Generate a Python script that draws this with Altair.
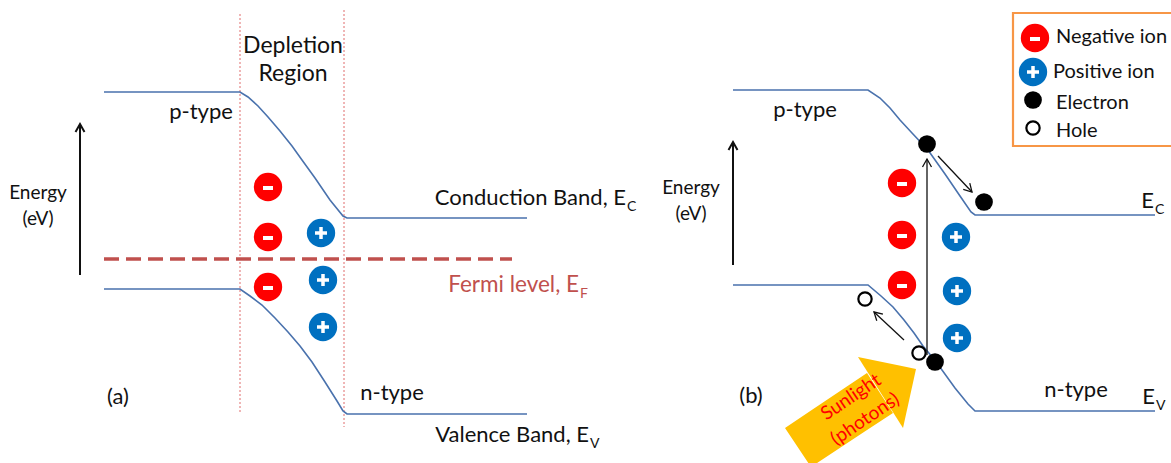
import math
import altair as alt
import pandas as pd

W, H = 1171, 463
FONT = "Lato"
INK = "#111111"
BAND_BLUE = "#4a72ad"
FERMI_RED = "#c0504d"
ION_RED = "#ff0000"
ION_BLUE = "#0070c0"

# ---- band edges (pixel space, y grows downward) ----
a_cb_x = [104, 240, 248, 258, 268, 280, 292, 302, 315, 330, 343, 347, 527]
a_cb_y = [92, 92, 97, 106, 117, 131, 146, 160, 178, 200, 216, 218, 218]
a_vb_x = [104, 240, 250, 262, 275, 288, 300, 312, 325, 337, 343, 347, 527]
a_vb_y = [289, 289, 296, 305, 318, 332, 346, 362, 382, 401, 411, 414, 414]
b_cb_x = [733, 868, 880, 890, 900, 912, 928, 945, 960, 971, 975, 1155]
b_cb_y = [90, 90, 98, 108, 120, 133, 150, 174, 196, 212, 215, 215]
b_vb_x = [733, 868, 881, 893, 904, 914, 923, 933, 942, 955, 968, 975, 1155]
b_vb_y = [285, 285, 296, 307, 320, 333, 346, 358, 370, 388, 404, 411, 411]

# depletion-region boundaries and Fermi level
dep_x = [240, 344]
dep_top = [14, 10]
dep_bot = [413, 427]
fermi_x = [104, 512]
fermi_y = 259

# fixed charges
neg_ion_x = [268, 268, 268, 902, 902, 902, 1035]
neg_ion_y = [187, 237, 287, 183, 235, 285, 38]
pos_ion_x = [321, 323, 323, 956, 957, 957, 1033]
pos_ion_y = [233, 280, 327, 237, 291, 338, 72]

# carriers
electron_x = [927, 984, 935, 1033]
electron_y = [144, 202, 362, 100]
hole_x = [865, 919, 1033]
hole_y = [299, 353, 128]

# arrows: (x0, y0, x1, y1, stroke width)
arrows = [
    (80, 275, 80, 124, 2.0),
    (733, 265, 733, 142, 2.0),
    (927, 355, 927, 159, 1.3),
    (938, 156, 972, 192, 1.3),
    (904, 340, 874, 312, 1.3),
]

# incoming-light block arrow: shaft quad and head triangle
sun_shaft = [(785, 428), (867, 373), (893, 413), (811, 467)]
sun_head = [(858, 357), (916, 369), (903, 428)]

# legend frame
legend_box = dict(x=1013, x2=1180, y=13, y2=146)

xs = alt.Scale(domain=[0, W], nice=False, zero=False)
ys = alt.Scale(domain=[H, 0], nice=False, zero=False)
X = lambda f="x": alt.X(f"{f}:Q", scale=xs, axis=None)
Y = lambda f="y": alt.Y(f"{f}:Q", scale=ys, axis=None)


def polyline_rows(xs_, ys_, key):
    return [dict(x=a, y=b, s=key, i=k) for k, (a, b) in enumerate(zip(xs_, ys_))]


def chevron(x0, y0, x1, y1, length=8.0, half=4.5):
    dx, dy = x1 - x0, y1 - y0
    n = math.hypot(dx, dy)
    ux, uy = dx / n, dy / n
    bx, by = x1 - ux * length, y1 - uy * length
    px, py = -uy, ux
    return [(bx + px * half, by + py * half), (x1, y1), (bx - px * half, by - py * half)]


def convex_area_rows(pts, key):
    # split a convex polygon into upper/lower chains sampled at every vertex x
    xs_sorted = sorted(set(p[0] for p in pts))
    edges = list(zip(pts, pts[1:] + pts[:1]))
    rows = []
    for xv in xs_sorted:
        hits = []
        for (ax, ay), (bx, by) in edges:
            lo, hi = min(ax, bx), max(ax, bx)
            if lo <= xv <= hi:
                if ax == bx:
                    hits += [ay, by]
                else:
                    t = (xv - ax) / (bx - ax)
                    hits.append(ay + t * (by - ay))
        rows.append(dict(x=xv, y=min(hits), y2=max(hits), s=key))
    return rows


# ---- band lines ----
band_rows = (polyline_rows(a_cb_x, a_cb_y, "a_cb") + polyline_rows(a_vb_x, a_vb_y, "a_vb")
             + polyline_rows(b_cb_x, b_cb_y, "b_cb") + polyline_rows(b_vb_x, b_vb_y, "b_vb"))
bands = alt.Chart(pd.DataFrame(band_rows)).mark_line(
    color=BAND_BLUE, strokeWidth=1.6).encode(x=X(), y=Y(), detail="s:N", order="i:Q")

dep = alt.Chart(pd.DataFrame(dict(x=dep_x, y=dep_top, y2=dep_bot))).mark_rule(
    color="#e06c6c", strokeWidth=1, strokeDash=[2, 2]).encode(x=X(), y=Y(), y2="y2:Q")

fermi = alt.Chart(pd.DataFrame(dict(x=[fermi_x[0]], x2=[fermi_x[1]], y=[fermi_y]))).mark_rule(
    color=FERMI_RED, strokeWidth=3.5, strokeDash=[15, 7]).encode(x=X(), x2="x2:Q", y=Y())

# ---- arrows ----
shaft_rows, head_rows = [], []
for k, (x0, y0, x1, y1, sw) in enumerate(arrows):
    shaft_rows.append(dict(x=x0, y=y0, x2=x1, y2=y1, w=sw))
    for j, (hx, hy) in enumerate(chevron(x0, y0, x1, y1)):
        head_rows.append(dict(x=hx, y=hy, s=k, i=j, w=sw))
arrow_shafts = alt.Chart(pd.DataFrame(shaft_rows)).mark_rule(color=INK).encode(
    x=X(), y=Y(), x2="x2:Q", y2="y2:Q", strokeWidth=alt.StrokeWidth("w:Q", scale=None))
arrow_heads = alt.Chart(pd.DataFrame(head_rows)).mark_line(color=INK).encode(
    x=X(), y=Y(), detail="s:N", order="i:Q", strokeWidth=alt.StrokeWidth("w:Q", scale=None))

# ---- sunlight arrow ----
sun_rows = convex_area_rows(sun_shaft, "shaft") + convex_area_rows(sun_head, "head")
sun = alt.Chart(pd.DataFrame(sun_rows)).mark_area(
    color="#ffc000", opacity=1, clip=True, interpolate="linear").encode(
    x=X(), y=Y(), y2="y2:Q", detail="s:N")

# ---- legend frame ----
legend_frame = alt.Chart(pd.DataFrame([legend_box])).mark_rect(
    fill="white", stroke="#f79646", strokeWidth=2.2, clip=True).encode(
    x=X(), x2="x2:Q", y=Y(), y2="y2:Q")

# ---- ions ----
ion_area = math.pi * 16 ** 2
neg = alt.Chart(pd.DataFrame(dict(x=neg_ion_x, y=neg_ion_y))).mark_circle(
    color=ION_RED, opacity=1, size=ion_area).encode(x=X(), y=Y())
pos = alt.Chart(pd.DataFrame(dict(x=pos_ion_x, y=pos_ion_y))).mark_circle(
    color=ION_BLUE, opacity=1, size=ion_area).encode(x=X(), y=Y())

minus_df = pd.DataFrame(dict(x=[v - 5 for v in neg_ion_x], x2=[v + 5 for v in neg_ion_x],
                             y=[v + 1 for v in neg_ion_y]))
minus = alt.Chart(minus_df).mark_rule(color="white", strokeWidth=4).encode(
    x=X(), x2="x2:Q", y=Y())
plus_h = pd.DataFrame(dict(x=[v - 6 for v in pos_ion_x], x2=[v + 6 for v in pos_ion_x], y=pos_ion_y))
plus_v = pd.DataFrame(dict(x=pos_ion_x, y=[v - 6 for v in pos_ion_y], y2=[v + 6 for v in pos_ion_y]))
plus = (alt.Chart(plus_h).mark_rule(color="white", strokeWidth=3.5).encode(x=X(), x2="x2:Q", y=Y())
        + alt.Chart(plus_v).mark_rule(color="white", strokeWidth=3.5).encode(x=X(), y=Y(), y2="y2:Q"))

# ---- carriers ----
electrons = alt.Chart(pd.DataFrame(dict(x=electron_x, y=electron_y))).mark_circle(
    color="black", opacity=1, size=math.pi * 10 ** 2).encode(x=X(), y=Y())
holes = alt.Chart(pd.DataFrame(dict(x=hole_x, y=hole_y))).mark_circle(
    fill="white", stroke="black", strokeWidth=2.2, opacity=1, size=math.pi * 7.5 ** 2).encode(
    x=X(), y=Y())

# ---- text ----
center_labels = pd.DataFrame([
    dict(x=293, y=53, t="Depletion", s=23, c=INK),
    dict(x=293, y=81, t="Region", s=23, c=INK),
    dict(x=201, y=119, t="p-type", s=22, c=INK),
    dict(x=38, y=199, t="Energy", s=19, c=INK),
    dict(x=38, y=225, t="(eV)", s=19, c=INK),
    dict(x=392, y=400, t="n-type", s=22, c=INK),
    dict(x=118, y=404, t="(a)", s=22, c=INK),
    dict(x=691, y=194, t="Energy", s=19, c=INK),
    dict(x=691, y=220, t="(eV)", s=19, c=INK),
    dict(x=805, y=117, t="p-type", s=22, c=INK),
    dict(x=1076, y=397, t="n-type", s=22, c=INK),
    dict(x=751, y=403, t="(b)", s=22, c=INK),
])
right_labels = pd.DataFrame([
    dict(x=626, y=205, t="Conduction Band, E", s=22, c=INK),
    dict(x=579, y=292, t="Fermi level, E", s=22.5, c=FERMI_RED),
    dict(x=589, y=442, t="Valence Band, E", s=22, c=INK),
    dict(x=1154, y=208, t="E", s=22, c=INK),
    dict(x=1155, y=404, t="E", s=22, c=INK),
])
left_labels = pd.DataFrame([
    dict(x=627, y=211, t="C", s=14, c=INK),
    dict(x=580, y=298, t="F", s=14, c=FERMI_RED),
    dict(x=590, y=448, t="V", s=14, c=INK),
    dict(x=1155, y=214, t="C", s=14, c=INK),
    dict(x=1156, y=410, t="V", s=14, c=INK),
    dict(x=1056, y=43, t="Negative ion", s=20, c=INK),
    dict(x=1053, y=78, t="Positive ion", s=20, c=INK),
    dict(x=1056, y=109, t="Electron", s=20, c=INK),
    dict(x=1056, y=137, t="Hole", s=20, c=INK),
])
sun_labels = pd.DataFrame([
    dict(x=851, y=397, t="Sunlight", s=19, c=ION_RED),
    dict(x=865, y=419, t="(photons)", s=19, c=ION_RED),
])


def text_layer(df, align, baseline="alphabetic", angle=0):
    return alt.Chart(df).mark_text(font=FONT, align=align, baseline=baseline, angle=angle).encode(
        x=X(), y=Y(), text="t:N",
        size=alt.Size("s:Q", scale=None),
        color=alt.Color("c:N", scale=None))


texts = (text_layer(center_labels, "center") + text_layer(right_labels, "right")
         + text_layer(left_labels, "left") + text_layer(sun_labels, "center", "middle", 326))

chart = alt.layer(
    dep, fermi, bands, legend_frame, sun, neg, pos, minus, plus,
    arrow_shafts, arrow_heads, electrons, holes, texts,
).properties(width=W, height=H, padding=0, autosize="none", background="white").configure_view(
    stroke=None)

chart.save("out.html", embed_options={"renderer": "svg", "actions": False})
